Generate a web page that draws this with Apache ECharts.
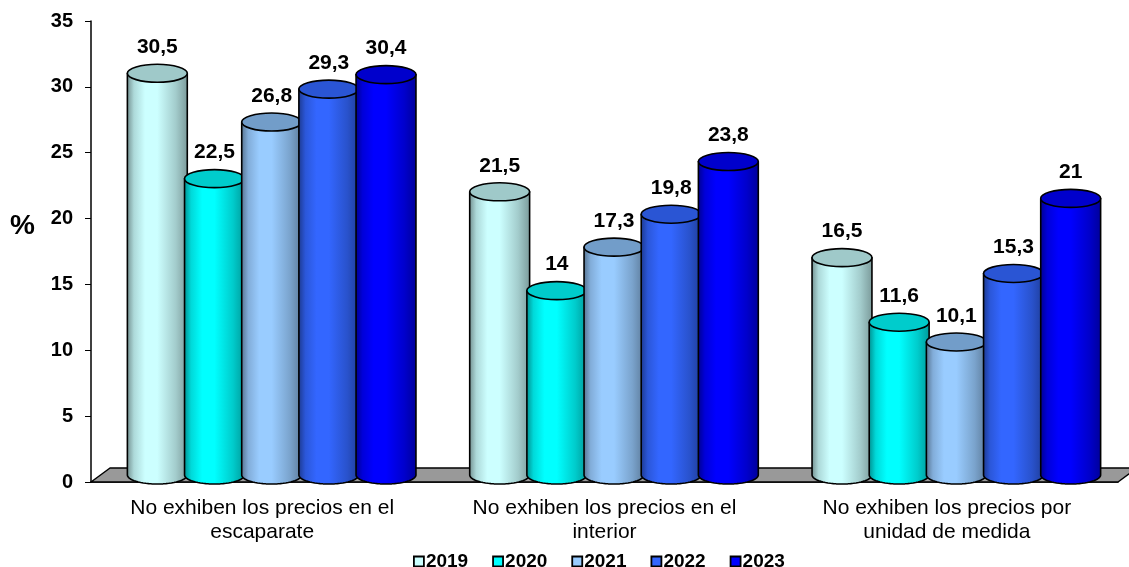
<!DOCTYPE html>
<html>
<head>
<meta charset="utf-8">
<script src="https://cdn.jsdelivr.net/npm/echarts@6/dist/echarts.min.js"></script>
<style>
  html, body { margin: 0; padding: 0; background: #fff; }
  #chart { width: 1129px; height: 567px; }
</style>
</head>
<body>
<div id="chart"></div>
<script>
// Categories, years and values (percent)
const categories = [
  'No exhiben los precios en el\nescaparate',
  'No exhiben los precios en el\ninterior',
  'No exhiben los precios por\nunidad de medida'
];
const years = ['2019', '2020', '2021', '2022', '2023'];
const v2019 = [30.5, 21.5, 16.5];
const v2020 = [22.5, 14, 11.6];
const v2021 = [26.8, 17.3, 10.1];
const v2022 = [29.3, 19.8, 15.3];
const v2023 = [30.4, 23.8, 21];
const yTicks = [0, 5, 10, 15, 20, 25, 30, 35];

const seriesValues = [v2019, v2020, v2021, v2022, v2023];

// Styling
const FONT = "'Liberation Sans', Arial, Helvetica, sans-serif";
const bodyColors = ['#CCFFFF', '#00FFFF', '#99CCFF', '#3366FF', '#0000FF'];
const topColors  = ['#9FC9C9', '#00CCCC', '#729DC9', '#2A55D4', '#0000CC'];
const DEPTH_DX = 9.5;   // half of the floor depth, horizontal
const DEPTH_DY = -7;    // half of the floor depth, vertical
const ELL_RY = 9;

function shade(hex, f) {
  const n = parseInt(hex.slice(1), 16);
  const r = Math.round(((n >> 16) & 255) * f);
  const g = Math.round(((n >> 8) & 255) * f);
  const b = Math.round((n & 255) * f);
  return 'rgb(' + r + ',' + g + ',' + b + ')';
}

function fmt(v) {
  return String(v).replace('.', ',');
}

function cylinderRenderer(k) {
  return function (params, api) {
    const ci = api.value(0);
    const val = api.value(1);
    const base = api.coord([ci, 0]);
    const top = api.coord([ci, val]);
    const catW = api.size([1, 0])[0];
    const step = catW * 0.167;
    const w = catW * 0.175;
    const cx = base[0] + DEPTH_DX + (k - 2) * step;
    const yb = base[1] + DEPTH_DY;
    const yt = top[1] + DEPTH_DY;
    const rx = w / 2;
    const ry = ELL_RY;

    const pts = [[cx - rx, yt], [cx - rx, yb]];
    const N = 32;
    for (let i = 1; i < N; i++) {
      const a = Math.PI - Math.PI * i / N;
      pts.push([cx + rx * Math.cos(a), yb + ry * Math.sin(a)]);
    }
    pts.push([cx + rx, yb], [cx + rx, yt]);

    const c = bodyColors[k];
    const grad = new echarts.graphic.LinearGradient(0, 0, 1, 0, [
      { offset: 0, color: shade(c, 0.55) },
      { offset: 0.12, color: shade(c, 0.85) },
      { offset: 0.3, color: c },
      { offset: 0.5, color: c },
      { offset: 0.8, color: shade(c, 0.8) },
      { offset: 1, color: shade(c, 0.6) }
    ]);

    return {
      type: 'group',
      children: [
        {
          type: 'polygon',
          shape: { points: pts },
          style: { fill: grad, stroke: '#000', lineWidth: 1.6, lineJoin: 'round' }
        },
        {
          type: 'ellipse',
          shape: { cx: cx, cy: yt, rx: rx, ry: ry },
          style: { fill: topColors[k], stroke: '#000', lineWidth: 1.6 }
        },
        {
          type: 'text',
          style: {
            text: fmt(val),
            x: cx,
            y: yt - 26,
            align: 'center',
            verticalAlign: 'middle',
            fontFamily: FONT,
            fontWeight: 'bold',
            fontSize: 21,
            fill: '#000'
          }
        }
      ]
    };
  };
}

// Grey floor under the cylinders, following the plot area
function floorRenderer(params, api) {
  const cs = params.coordSys;
  const x0 = cs.x, x1 = cs.x + cs.width, y0 = cs.y + cs.height;
  const dx = DEPTH_DX * 2, dy = DEPTH_DY * 2;
  return {
    type: 'polygon',
    shape: { points: [[x0, y0], [x0 + dx, y0 + dy], [x1 + dx, y0 + dy], [x1, y0]] },
    style: { fill: '#999999', stroke: '#000', lineWidth: 1.5, lineJoin: 'round' }
  };
}

const series = [{
  type: 'custom',
  name: 'floor',
  renderItem: floorRenderer,
  data: [[0, 0]],
  z: 1,
  silent: true
}];

years.forEach(function (y, k) {
  series.push({
    type: 'custom',
    name: y,
    renderItem: cylinderRenderer(k),
    itemStyle: { color: bodyColors[k] },
    data: seriesValues[k].map(function (v, i) { return [i, v]; }),
    z: 2 + k
  });
});

const chart = echarts.init(document.getElementById('chart'), null, { renderer: 'canvas' });
chart.setOption({
  animation: false,
  backgroundColor: '#ffffff',
  grid: { left: 91, right: 11, top: 21, bottom: 85 },
  xAxis: {
    type: 'category',
    data: categories,
    axisLine: { lineStyle: { color: '#000', width: 1.5 } },
    axisTick: { length: 7, lineStyle: { color: '#000', width: 1 } },
    axisLabel: {
      color: '#000',
      fontFamily: FONT,
      fontSize: 21,
      lineHeight: 24,
      margin: 14,
      interval: 0
    }
  },
  yAxis: {
    type: 'value',
    min: yTicks[0],
    max: yTicks[yTicks.length - 1],
    interval: yTicks[1] - yTicks[0],
    splitLine: { show: false },
    axisLine: { show: true, lineStyle: { color: '#000', width: 1.5 } },
    axisTick: { show: true, length: 6, lineStyle: { color: '#000', width: 1 } },
    axisLabel: {
      color: '#000',
      fontFamily: FONT,
      fontWeight: 'bold',
      fontSize: 20,
      margin: 18
    }
  },
  legend: {
    data: years,
    left: 408,
    top: 547,
    icon: 'rect',
    itemWidth: 10,
    itemHeight: 10,
    itemGap: 24,
    itemStyle: { borderColor: '#000', borderWidth: 1.8 },
    textStyle: { color: '#000', fontFamily: FONT, fontWeight: 'bold', fontSize: 19, padding: [0, 0, 0, -3] },
    selectedMode: false
  },
  graphic: [{
    type: 'text',
    left: 10,
    top: 212,
    style: { text: '%', fontFamily: FONT, fontWeight: 'bold', fontSize: 28, fill: '#000' }
  }],
  series: series
});
</script>
</body>
</html>
